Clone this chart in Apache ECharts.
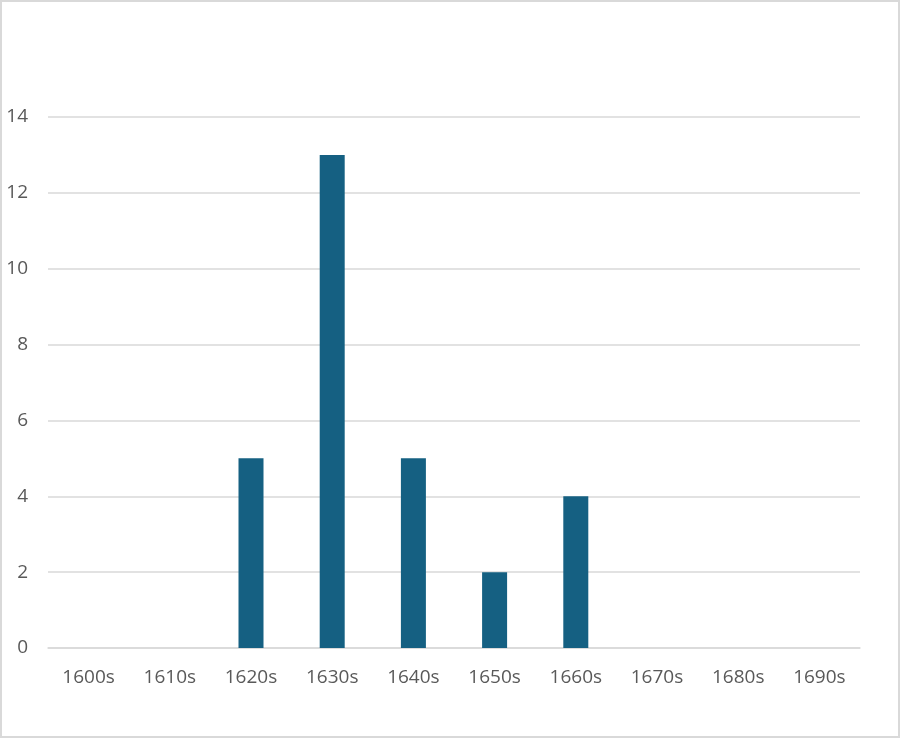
<!DOCTYPE html>
<html>
<head>
<meta charset="utf-8">
<script src="https://cdn.jsdelivr.net/npm/echarts@6/dist/echarts.min.js"></script>
<style>
html,body{margin:0;padding:0;background:#fff;}
#frame{position:absolute;left:0;top:0;width:896px;height:734px;border:2px solid #d9d9d9;}
#chart{width:900px;height:738px;position:absolute;left:0;top:0;}
</style>
</head>
<body>
<div id="frame"></div>
<div id="chart"></div>
<script>
const categories = ['1600s','1610s','1620s','1630s','1640s','1650s','1660s','1670s','1680s','1690s'];
const values = [0, 0, 5, 13, 5, 2, 4, 0, 0, 0];

const chart = echarts.init(document.getElementById('chart'), null, {renderer:'canvas'});
chart.setOption({
  animation: false,
  backgroundColor: 'transparent',
  grid: {left: 48, right: 40, top: 117, bottom: 90, containLabel: false},
  xAxis: {
    type: 'category',
    data: categories,
    axisLine: {show: true, lineStyle: {color: '#d9d9d9', width: 1.5}},
    axisTick: {show: false},
    axisLabel: {color: '#595959', fontSize: 19, fontFamily: '"Open Sans", sans-serif', margin: 20}
  },
  yAxis: {
    type: 'value',
    min: 0, max: 14, interval: 2,
    axisLine: {show: false},
    axisTick: {show: false},
    splitLine: {lineStyle: {color: '#d9d9d9', width: 1.5}},
    axisLabel: {color: '#595959', fontSize: 19, fontFamily: '"Open Sans", sans-serif', margin: 20}
  },
  series: [{
    type: 'bar',
    data: values,
    barWidth: 25,
    itemStyle: {color: '#156082'}
  }]
});
</script>
</body>
</html>
